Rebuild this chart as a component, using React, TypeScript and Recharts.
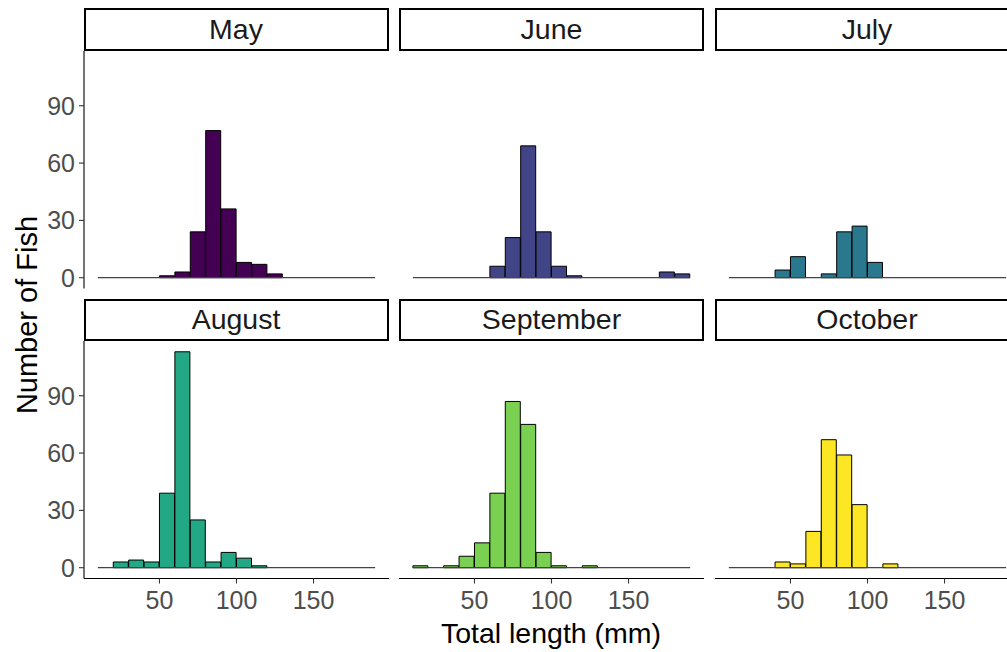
import React from 'react'
import { BarChart, Bar, XAxis, YAxis, ReferenceLine } from 'recharts'

// histogram bins are 10 mm wide, from 10 to 190 mm
const binMids = [15, 25, 35, 45, 55, 65, 75, 85, 95, 105, 115, 125, 135, 145, 155, 165, 175, 185]
const binRange = [10, 190]

const months = ['May', 'June', 'July', 'August', 'September', 'October']
const monthColors = ['#440154', '#414487', '#2A788E', '#22A884', '#7AD151', '#FDE725']

const mayCounts = [0, 0, 0, 0, 1, 3, 24, 77, 36, 8, 7, 2, 0, 0, 0, 0, 0, 0]
const juneCounts = [0, 0, 0, 0, 0, 6, 21, 69, 24, 6, 1, 0, 0, 0, 0, 0, 3, 2]
const julyCounts = [0, 0, 0, 4, 11, 0, 2, 24, 27, 8, 0, 0, 0, 0, 0, 0, 0, 0]
const augustCounts = [0, 3, 4, 3, 39, 113, 25, 3, 8, 5, 1, 0, 0, 0, 0, 0, 0, 0]
const septemberCounts = [1, 0, 1, 6, 13, 39, 87, 75, 8, 1, 0, 1, 0, 0, 0, 0, 0, 0]
const octoberCounts = [0, 0, 0, 3, 2, 19, 67, 59, 33, 0, 2, 0, 0, 0, 0, 0, 0, 0]

const xTicks = [50, 100, 150]
const yTicks = [0, 30, 60, 90]

const allCounts = [mayCounts, juneCounts, julyCounts, augustCounts, septemberCounts, octoberCounts]

// ggplot-style 5% expansion
const xSpan = binRange[1] - binRange[0]
const xDomain = [binRange[0] - 0.05 * xSpan, binRange[1] + 0.05 * xSpan]
const yMax = Math.max(...allCounts.flat())
const yDomain = [-0.05 * yMax, yMax * 1.05]

const FONT = '"Liberation Sans", Arial, sans-serif'
const PANEL_W = 305
const PANEL_H = 237.5
const PANEL_LEFT = [83.5, 399, 714.5]
const STRIP_TOP = [8.3, 298.5]
const STRIP_H = 42.7
const Y_AXIS_W = 60
const X_AXIS_H = 60
const PAD_B = 16 // room so the "0" label of the top row is not clipped

const Panel = ({ idx }: { idx: number }) => {
  const col = idx % 3
  const row = Math.floor(idx / 3)
  const showY = col === 0
  const showX = row === 1
  const data = binMids.map((x, i) => ({ x, n: allCounts[idx][i] }))
  const panelTop = STRIP_TOP[row] + STRIP_H
  const bottomPad = showX ? 0 : PAD_B

  return (
    <>
      <div
        style={{
          position: 'absolute',
          left: PANEL_LEFT[col] - (showY ? Y_AXIS_W : 0),
          top: panelTop
        }}
      >
        <BarChart
          width={PANEL_W + (showY ? Y_AXIS_W : 0)}
          height={PANEL_H + (showX ? X_AXIS_H : bottomPad)}
          data={data}
          margin={{ top: 0, right: 0, bottom: bottomPad, left: 0 }}
          barCategoryGap={0}
          barGap={0}
        >
          <XAxis
            type="number"
            dataKey="x"
            domain={xDomain}
            ticks={xTicks}
            interval={0}
            allowDataOverflow
            hide={!showX}
            height={X_AXIS_H}
            tickSize={5}
            tickMargin={8}
            axisLine={{ stroke: '#000', strokeWidth: 1.1 }}
            tickLine={{ stroke: '#333', strokeWidth: 1.1 }}
            tick={{ fill: '#4d4d4d', fontSize: 25, fontFamily: FONT }}
          />
          <YAxis
            type="number"
            domain={yDomain}
            ticks={yTicks}
            interval={0}
            allowDataOverflow
            hide={!showY}
            width={Y_AXIS_W}
            tickSize={5}
            tickMargin={4}
            axisLine={{ stroke: '#000', strokeWidth: 1.1 }}
            tickLine={{ stroke: '#333', strokeWidth: 1.1 }}
            tick={{ fill: '#4d4d4d', fontSize: 25, fontFamily: FONT }}
          />
          <ReferenceLine
            segment={[{ x: binRange[0], y: 0 }, { x: binRange[1], y: 0 }]}
            stroke="#444"
            strokeWidth={1.2}
          />
          <Bar
            dataKey="n"
            fill={monthColors[idx]}
            stroke="#000"
            strokeWidth={1}
            isAnimationActive={false}
          />
        </BarChart>
      </div>
      <div
        style={{
          position: 'absolute',
          left: PANEL_LEFT[col],
          top: STRIP_TOP[row],
          width: PANEL_W,
          height: STRIP_H,
          boxSizing: 'border-box',
          border: '2px solid #000',
          background: '#fff',
          display: 'flex',
          alignItems: 'center',
          justifyContent: 'center',
          fontSize: 28.5,
          color: '#1a1a1a'
        }}
      >
        {months[idx]}
      </div>
    </>
  )
}

export default function App() {
  return (
    <div
      style={{
        position: 'fixed',
        left: 0,
        top: 0,
        width: 1007,
        height: 652,
        overflow: 'hidden',
        background: '#fff',
        fontFamily: FONT
      }}
    >
      {months.map((m, i) => (
        <Panel key={m} idx={i} />
      ))}
      <div
        style={{
          position: 'absolute',
          left: 27,
          top: 315,
          transform: 'translate(-50%, -50%) rotate(-90deg)',
          whiteSpace: 'nowrap',
          fontSize: 29,
          color: '#000'
        }}
      >
        Number of Fish
      </div>
      <div
        style={{
          position: 'absolute',
          left: 551,
          top: 633,
          transform: 'translate(-50%, -50%)',
          whiteSpace: 'nowrap',
          fontSize: 28.5,
          color: '#000'
        }}
      >
        Total length (mm)
      </div>
    </div>
  )
}
